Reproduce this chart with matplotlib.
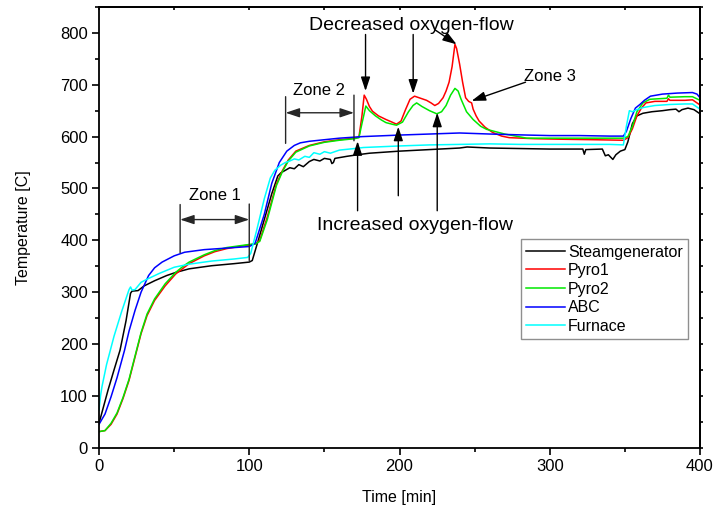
import matplotlib
matplotlib.use("Agg")
import matplotlib.pyplot as plt
from matplotlib.ticker import MultipleLocator

plt.rcParams['font.family'] = ['Liberation Sans', 'DejaVu Sans']

# ---- data ----
steam_t = [0, 3, 6, 10, 14, 18, 21, 22, 26, 30, 37, 45, 51, 60, 75, 90, 100, 102, 106, 110, 115, 119,
           121, 124, 127, 130, 133, 136, 140, 143, 147, 150, 154, 155, 156, 157, 165, 172, 180, 200, 220,
           240, 245, 260, 280, 300, 320, 322, 323, 324, 335, 337, 339, 342, 344, 347, 350, 352, 355, 358,
           362, 368, 375, 380, 384, 386, 388, 392, 396, 400]
steam_v = [47, 79, 111, 150, 188, 245, 298, 302, 303, 312, 322, 332, 338, 345, 351, 355, 358, 361, 400, 440, 490, 524,
           530, 535, 540, 538, 546, 542, 552, 556, 553, 558, 556, 548, 550, 558, 562, 565, 568, 572, 575,
           578, 580, 578, 577, 576, 576, 576, 566, 575, 576, 563, 565, 556, 565, 572, 575, 590, 625, 640,
           645, 648, 650, 652, 653, 648, 652, 655, 652, 644]

pyro1_t = [0, 4, 8, 12, 16, 20, 24, 28, 32, 37, 44, 51, 60, 70, 77, 85, 95, 100, 104, 107, 112, 118, 122,
           126, 131, 140, 150, 160, 170, 173, 175, 176.5, 178, 180, 182, 186, 191, 195, 198, 201, 204, 207,
           210, 213, 216, 218, 221, 223.5, 226, 229, 231, 233, 235, 236.9, 238, 239, 240, 242, 244, 246, 248,
           249, 251, 253, 257, 262, 268, 273, 290, 307, 330, 349, 352, 355, 358, 361, 364, 370, 378, 379,
           380, 390, 395, 400]
pyro1_v = [31, 33, 45, 65, 95, 130, 175, 220, 255, 284, 312, 335, 355, 370, 378, 384, 389, 391, 393, 400, 445, 508, 534,
           555, 572, 583, 590, 594, 597, 599, 640, 680, 672, 658, 649, 640, 633, 628, 624, 630, 652, 672,
           678, 675, 672, 670, 665, 660, 664, 675, 688, 705, 735, 778, 770, 755, 740, 705, 675, 668, 665,
           653, 640, 630, 618, 608, 601, 598, 596, 595, 594, 593, 598, 615, 640, 655, 665, 668, 668, 673,
           670, 670, 671, 661]

pyro2_t = [0, 4, 8, 12, 16, 20, 24, 28, 32, 37, 44, 51, 56, 60, 70, 77, 85, 95, 100, 104, 107, 112, 118,
           122, 126, 131, 140, 150, 160, 170, 173, 175, 177.6, 180, 184, 188, 191, 195, 198, 202, 206, 209,
           211.4, 215, 220, 224.8, 228, 231, 234, 236.9, 239, 241, 244.6, 249, 254, 258, 262, 270, 284.6,
           300, 320, 349, 352, 355, 358, 362, 366.6, 378, 379, 380, 390, 395, 400]
pyro2_v = [31, 33, 47, 67, 97, 132, 177, 222, 258, 287, 316, 338, 350, 358, 372, 380, 386, 390, 392, 393, 398, 440, 505,
           532, 553, 570, 582, 589, 593, 596, 598, 625, 659, 650, 640, 632, 627, 624, 622, 628, 648, 660,
           665, 658, 650, 644, 648, 660, 680, 693, 688, 672, 648, 633, 620, 614, 611, 605, 597,
           597, 597, 597, 600, 620, 648, 665, 672, 674, 680, 676, 677, 677, 670]

abc_t = [0, 4, 8, 12, 17, 20, 24, 28, 33, 37, 42, 50, 57, 70, 85, 100, 102, 104, 110, 115, 120, 125, 130,
         134, 140, 150, 160, 175, 200, 220, 240, 260, 285, 300, 320, 340, 349, 351, 354, 357, 360, 363,
         367, 375, 385, 395, 398, 400]
abc_v = [45, 65, 98, 135, 188, 225, 265, 300, 332, 347, 358, 370, 377, 382, 385, 388, 391, 395, 450, 510, 550, 572, 583,
         588, 591, 594, 597, 600, 603, 605, 607, 605, 603, 602, 602, 601, 601, 610, 635, 655, 662, 670,
         678, 682, 684, 685, 682, 675]

furn_t = [0, 1, 2, 5, 10, 15, 20, 21, 22, 24, 26, 28, 32, 40, 50, 60, 75, 90, 99, 101, 105, 110, 114,
          117, 119, 121, 124, 127, 130, 133, 137, 140, 143, 147, 150, 154, 160, 170, 176, 200, 220, 240,
          260, 280, 300, 320, 340, 349, 351, 353, 355, 358, 362, 370, 380, 390, 395, 400]
furn_v = [72, 100, 118, 160, 215, 262, 305, 310, 304, 305, 312, 319, 325, 336, 348, 354, 360, 364, 367, 375, 420, 480, 520,
          535, 540, 545, 550, 553, 557, 555, 562, 560, 569, 566, 571, 568, 574, 577, 579, 582, 584, 585,
          586, 585, 585, 585, 585, 584, 620, 650, 648, 652, 656, 660, 662, 663, 663, 653]

series = [
    ("Steamgenerator", steam_t, steam_v, "#000000"),
    ("Pyro1", pyro1_t, pyro1_v, "#ff0000"),
    ("Pyro2", pyro2_t, pyro2_v, "#00e800"),
    ("ABC", abc_t, abc_v, "#0000ff"),
    ("Furnace", furn_t, furn_v, "#00ffff"),
]

# ---- figure ----
fig = plt.figure(figsize=(7.15, 5.12), dpi=100)
ax = fig.add_axes([99 / 715, 1 - 447.7 / 512, 601 / 715, 440.7 / 512])

for name, t, v, c in series:
    ax.plot(t, v, color=c, lw=1.1, label=name)

ax.set_xlim(0, 400)
ax.set_ylim(0, 850)
ax.xaxis.set_major_locator(MultipleLocator(100))
ax.xaxis.set_minor_locator(MultipleLocator(50))
ax.yaxis.set_major_locator(MultipleLocator(100))
ax.yaxis.set_minor_locator(MultipleLocator(50))
ax.tick_params(axis='both', which='major', direction='out', length=5, width=1.2,
               labelsize=12, pad=3)
ax.tick_params(axis='both', which='minor', direction='out', length=3, width=1.2)
# right axis: small outward ticks every 50; top axis: tiny inward ticks
ax.tick_params(axis='y', which='both', right=True)
ax2 = ax.secondary_yaxis('right')
ax2.yaxis.set_major_locator(MultipleLocator(50))
ax2.tick_params(direction='out', length=2.5, width=1.2, labelright=False)
ax.tick_params(axis='y', which='both', right=False)
ax3 = ax.secondary_xaxis('top')
ax3.xaxis.set_major_locator(MultipleLocator(50))
ax3.tick_params(direction='in', length=2, width=1.2, labeltop=False)
for sp in ax.spines.values():
    sp.set_linewidth(1.3)
ax2.spines['right'].set_linewidth(1.3)
ax3.spines['top'].set_linewidth(1.3)

ax.set_xlabel("Time [min]", fontsize=11.5, labelpad=12)
ax.set_ylabel("Temperature [C]", fontsize=11.5, labelpad=21)

leg = ax.legend(loc='upper left', bbox_to_anchor=(0.702, 0.4736), borderaxespad=0,
                fontsize=11.5, frameon=True, fancybox=False, edgecolor='0.45',
                handlelength=2.4, handletextpad=0.2, labelspacing=0.22, borderpad=0.35)
leg.get_frame().set_linewidth(1.0)

# ---- annotations ----
ann_col = '0.15'
line_kw = dict(arrowstyle='-', color=ann_col, lw=1.0, shrinkA=0, shrinkB=0)
dbl_kw = dict(arrowstyle='<|-|>,head_length=0.6,head_width=0.2', color=ann_col, lw=1.0,
              shrinkA=0, shrinkB=0, mutation_scale=14)
arr_kw = dict(arrowstyle='-|>,head_length=0.6,head_width=0.2', color='black', lw=1.0,
              shrinkA=0, shrinkB=0, mutation_scale=14)

# Zone 1
ax.annotate('', xy=(54, 376), xytext=(54, 469), arrowprops=line_kw)
ax.annotate('', xy=(100, 361), xytext=(100, 470), arrowprops=line_kw)
ax.annotate('', xy=(54, 440), xytext=(100, 440), arrowprops=dbl_kw)
ax.text(77, 472, "Zone 1", fontsize=12, ha='center', va='bottom')

# Zone 2
ax.annotate('', xy=(124.2, 587), xytext=(124.2, 677), arrowprops=line_kw)
ax.annotate('', xy=(169.7, 592), xytext=(169.7, 680), arrowprops=line_kw)
ax.annotate('', xy=(124.2, 646), xytext=(169.7, 646), arrowprops=dbl_kw)
ax.text(146.6, 674, "Zone 2", fontsize=12, ha='center', va='bottom')

# Decreased oxygen-flow
ax.text(207.9, 814, "Decreased oxygen-flow", fontsize=14, ha='center', va='center')
ax.annotate('', xy=(177.4, 688), xytext=(177.4, 797), arrowprops=arr_kw)
ax.annotate('', xy=(209.1, 683), xytext=(209.1, 797), arrowprops=arr_kw)
ax.annotate('', xy=(238, 778), xytext=(223.6, 806), arrowprops=arr_kw)

# Increased oxygen-flow
ax.text(210, 428, "Increased oxygen-flow", fontsize=14, ha='center', va='center')
ax.annotate('', xy=(172.1, 591), xytext=(172.1, 457), arrowprops=arr_kw)
ax.annotate('', xy=(199.2, 619), xytext=(199.2, 486), arrowprops=arr_kw)
ax.annotate('', xy=(225.1, 646), xytext=(225.1, 457), arrowprops=arr_kw)

# Zone 3
ax.text(300.3, 715, "Zone 3", fontsize=12, ha='center', va='center')
ax.annotate('', xy=(248, 669), xytext=(283.9, 705), arrowprops=arr_kw)

fig.savefig("out.png", dpi=100)
